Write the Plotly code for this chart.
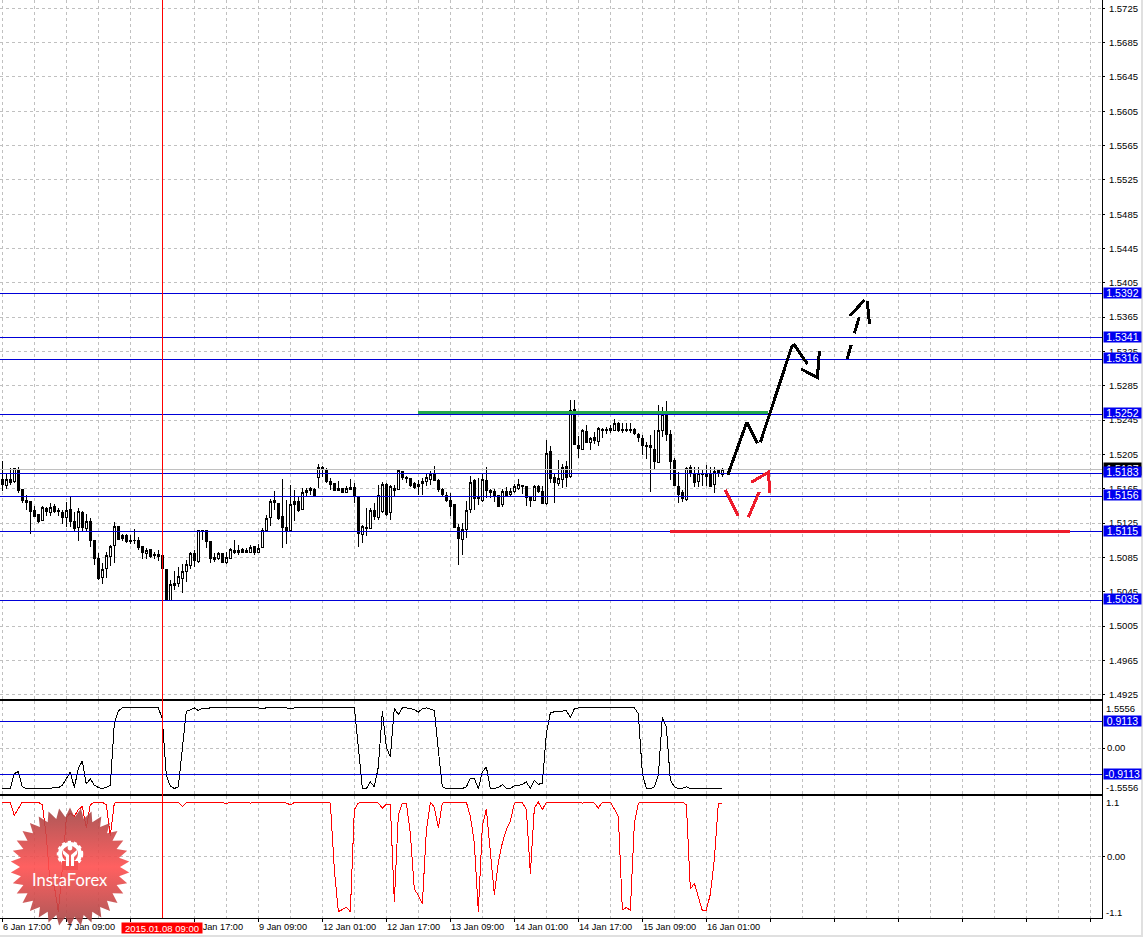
import base64
import math
import plotly.graph_objects as go
from plotly.subplots import make_subplots

# H1 bars, quotes in 5-digit points
opens_pts = [
    151760,151690,151760,151736,151876,151647,151519,151507,151399,151356,
    151286,151418,151371,151449,151402,151379,151321,151414,151263,151197,
    151379,151185,151263,151053,150835,150614,150719,150859,150987,151208,
    151103,151107,151053,151053,151053,150979,150894,150948,150886,150859,
    150878,150715,150350,150521,150544,150602,150684,150758,150890,150800,
    151162,151158,151033,150847,150839,150894,150789,150839,150932,150905,
    150944,150932,150913,150975,150905,150963,151162,151313,151515,151480,
    151332,151193,151169,151496,151507,151406,151635,151655,151643,151779,
    151900,151876,151729,151713,151655,151655,151612,151670,151670,151554,
    151119,151204,151189,151391,151313,151383,151694,151372,151655,151644,
    151853,151783,151764,151713,151671,151729,151733,151760,151826,151752,
    151647,151570,151519,151461,151193,151057,151170,151410,151741,151558,
    151519,151752,151632,151624,151566,151461,151620,151589,151616,151659,
    151690,151671,151554,151519,151671,151624,151473,152079,151783,151706,
    151760,151915,151791,152576,152160,152110,152319,152187,152249,152203,
    152343,152335,152347,152327,152405,152343,152343,152343,152335,152288,
    152238,152160,152156,152110,151954,152327,152510,152277,151985,151682,
    151609,151523,151900,151830,151733,151830,151822,151811,151694,151869,
    151822,
]
highs_pts = [
    151973,151830,151888,151888,151900,151647,151577,151507,151449,151356,
    151449,151441,151480,151468,151422,151402,151499,151554,151383,151422,
    151395,151356,151305,151053,150897,150781,150917,150995,151263,151216,
    151123,151123,151111,151181,151092,150983,150963,150948,150917,150936,
    150878,150715,150587,150695,150742,150773,150820,150917,150936,151169,
    151169,151169,151033,150897,150917,150905,150917,150963,151053,150995,
    150963,150956,150995,150987,151006,151189,151344,151530,151624,151488,
    151764,151519,151694,151635,151558,151663,151663,151666,151655,151938,
    151915,151888,151779,151721,151740,151663,151682,151760,151721,151554,
    151228,151422,151422,151480,151694,151733,151721,151694,151694,151869,
    151861,151799,151780,151733,151752,151772,151830,151861,151915,151760,
    151655,151616,151597,151461,151240,151247,151508,151799,151760,151772,
    151830,151900,151644,151644,151578,151644,151675,151655,151706,151764,
    151694,151682,151566,151694,151694,151682,152218,152148,151830,151985,
    151939,151978,152684,152684,152265,152343,152393,152257,152316,152374,
    152354,152374,152393,152459,152432,152413,152413,152413,152354,152304,
    152277,152199,152277,152335,152626,152599,152673,152335,152005,151849,
    151636,151900,151931,151900,151900,151877,151931,151908,151908,151869,
    151888,
]
lows_pts = [
    151628,151651,151694,151713,151604,151480,151402,151127,151317,151255,
    151278,151332,151332,151371,151332,151239,151208,151208,151162,151041,
    151162,151162,150975,150762,150587,150540,150606,150750,150789,151053,
    151045,151022,151006,151006,150936,150827,150831,150843,150827,150808,
    150719,150342,150350,150470,150509,150439,150567,150715,150742,150789,
    151053,150956,150789,150800,150820,150781,150769,150831,150890,150878,
    150897,150897,150897,150878,150897,150956,151158,151220,151402,151286,
    150963,151006,151162,151274,151383,151402,151550,151577,151550,151663,
    151791,151713,151635,151628,151628,151597,151597,151643,151480,150975,
    151014,151099,151185,151286,151286,151372,151333,151286,151566,151636,
    151752,151713,151675,151647,151574,151578,151682,151694,151745,151616,
    151550,151500,151333,151193,150762,150878,151073,151372,151403,151461,
    151500,151539,151539,151500,151442,151442,151558,151558,151597,151636,
    151589,151449,151442,151508,151605,151473,151461,151713,151488,151682,
    151655,151675,151772,152160,152005,152102,152187,152102,152168,152148,
    152238,152288,152296,152323,152316,152296,152316,152296,152277,152199,
    152044,151993,151616,151869,151947,152257,152211,151752,151682,151488,
    151492,151512,151791,151675,151667,151682,151682,151667,151605,151783,
    151791,
]
closes_pts = [
    151698,151760,151721,151888,151628,151519,151488,151383,151332,151274,
    151437,151387,151433,151383,151383,151313,151399,151263,151189,151387,
    151197,151274,151045,150835,150610,150711,150878,150979,151212,151064,
    151072,151037,151041,151045,150960,150905,150932,150855,150874,150886,
    150719,150350,150536,150548,150622,150688,150769,150897,150812,151162,
    151150,151033,150835,150827,150897,150796,150851,150948,150905,150929,
    150913,150905,150963,150905,150956,151158,151305,151503,151488,151305,
    151193,151162,151468,151472,151391,151608,151608,151635,151577,151900,
    151888,151733,151694,151635,151635,151608,151655,151647,151558,151130,
    151216,151185,151402,151325,151569,151694,151356,151671,151628,151865,
    151783,151768,151690,151663,151702,151713,151783,151811,151752,151647,
    151578,151519,151442,151193,151065,151170,151399,151725,151535,151535,
    151760,151628,151605,151558,151449,151620,151574,151616,151682,151694,
    151675,151550,151512,151678,151624,151473,152063,151764,151721,151772,
    151900,151780,152560,152164,152114,152327,152195,152238,152207,152354,
    152327,152327,152327,152413,152327,152327,152331,152327,152292,152249,
    152160,152145,152129,151966,152327,152521,152281,151966,151686,151589,
    151531,151884,151830,151721,151830,151815,151791,151682,151853,151830,
    151877,
]

osc_black = [
    -1.392,-1.392,-1.392,-0.877,-0.808,-1.335,-1.392,-1.392,-1.392,-1.392,
    -1.369,-1.392,-1.381,-1.381,-1.369,-1.278,-1.049,-0.819,-1.358,-0.705,
    -0.441,-1.243,-1.049,-1.278,-1.358,-1.392,-1.358,-1.278,0.842,1.278,
    1.392,1.392,1.392,1.392,1.392,1.392,1.392,1.392,1.381,1.392,
    1.014,-0.934,-1.312,-1.392,-1.335,0.040,1.278,1.324,1.392,1.301,
    1.381,1.358,1.392,1.392,1.392,1.392,1.392,1.392,1.392,1.392,
    1.392,1.392,1.392,1.392,1.392,1.358,1.392,1.392,1.392,1.392,
    1.392,1.392,1.358,1.392,1.392,1.392,1.392,1.392,1.392,1.392,
    1.392,1.392,1.392,1.392,1.392,1.392,1.392,1.392,1.392,0.040,
    -1.392,-1.392,-1.163,-1.335,-0.647,1.278,0.040,-0.304,1.392,1.152,
    1.392,1.392,1.358,1.335,1.243,1.358,1.392,1.358,1.301,-0.074,
    -1.335,-1.392,-1.392,-1.369,-1.392,-1.392,-1.335,-1.049,-1.049,-1.392,
    -0.819,-0.647,-1.392,-1.392,-1.358,-1.255,-1.392,-1.392,-1.301,-1.289,
    -1.255,-1.163,-1.392,-1.106,-1.243,-1.220,0.499,1.220,1.255,1.255,
    1.278,1.301,1.049,1.358,1.392,1.392,1.392,1.392,1.392,1.392,
    1.392,1.392,1.392,1.392,1.392,1.392,1.392,1.392,1.392,1.186,
    -0.877,-1.392,-1.404,-1.335,-0.934,1.072,0.728,-1.106,-1.335,-1.392,
    -1.381,-1.335,-1.392,-1.392,-1.392,-1.392,-1.392,-1.392,-1.369,-1.392,
    -1.392,
]
osc_red = [
    1.1,1.1,1.094,0.834,0.967,1.1,1.1,1.1,1.1,1.1,
    1.047,0.414,-0.587,-0.587,-1.107,-0.253,0.78,0.88,0.814,0.947,
    1.014,0.58,1.047,1.094,1.1,1.1,1.047,0.414,1.081,1.1,
    1.1,1.1,1.1,1.1,1.1,1.1,1.1,1.1,1.1,1.1,
    1.081,1.1,1.1,1.1,1.1,1.014,1.094,1.1,1.1,1.1,
    1.1,1.1,1.1,1.1,1.1,1.1,1.067,1.1,1.1,1.1,
    1.1,1.1,1.081,1.1,1.1,1.1,1.1,1.1,1.1,1.1,
    1.1,1.081,1.047,1.094,1.1,1.1,1.1,1.1,1.1,1.1,
    1.1,1.1,1.081,-0.253,-1.107,-1.067,-1.021,-1.107,0.947,1.081,
    1.1,1.1,1.1,1.1,1.081,0.98,1.061,1.047,-0.907,0.847,
    1.081,1.081,0.48,-0.654,-0.774,-0.954,0.514,1.1,1.0,0.58,
    1.081,1.1,1.1,1.1,1.1,1.1,1.1,0.814,0.28,-1.107,
    0.614,0.96,0.08,-0.76,-0.12,0.28,0.547,0.714,1.081,1.1,
    1.094,0.947,-0.34,0.98,1.1,0.947,1.1,1.1,1.1,1.1,
    1.1,1.1,1.1,1.1,1.1,1.081,1.087,1.1,1.081,0.98,
    1.1,1.1,1.1,0.96,0.814,-1.074,-1.021,-1.081,0.68,1.081,
    1.1,1.1,1.1,1.1,1.1,1.1,1.1,1.1,1.1,1.1,
    1.1,1.047,-0.654,-0.534,-0.82,-1.087,-1.074,-0.754,-0.053,1.081,
    1.081,
]

levels = [1.5392, 1.5341, 1.5316, 1.5252, 1.5183, 1.5156, 1.5115, 1.5035]
bid_price = 1.5187
osc_levels = [0.9113, -0.9113]
price_ticks = [1.5725, 1.5685, 1.5645, 1.5605, 1.5565, 1.5525, 1.5485, 1.5445, 1.5405, 1.5365, 1.5325,
               1.5285, 1.5245, 1.5205, 1.5165, 1.5125, 1.5085, 1.5045, 1.5005, 1.4965, 1.4925]
time_labels = ["6 Jan 17:00", "7 Jan 09:00", "8 Jan 01:00", "8 Jan 17:00", "9 Jan 09:00", "12 Jan 01:00",
               "12 Jan 17:00", "13 Jan 09:00", "14 Jan 01:00", "14 Jan 17:00", "15 Jan 09:00", "16 Jan 01:00"]
crosshair_bar = 40
crosshair_label = "2015.01.08 09:00"

# hand drawn forecast, (bar number, price)
black_paths = [
    ([181.35, 186.1, 188.76], [1.51811, 1.52425, 1.52180]),
    ([189.5, 197.35, 198.0, 201.26], [1.52192, 1.53306, 1.53326, 1.53104]),
    ([199.7, 203.76, 204.26], [1.53046, 1.52945, 1.53260]),
    ([211.2, 212.2], [1.53163, 1.53326]),
    ([213.0, 214.2], [1.53462, 1.53648]),
    ([211.9, 215.5], [1.53664, 1.53850]),
    ([216.2, 216.8], [1.53842, 1.53566]),
]
red_paths = [
    ([180.7, 184.0], [1.51636, 1.51333]),
    ([186.5, 189.2], [1.51318, 1.51613]),
    ([187.2, 191.5, 191.9], [1.51725, 1.51842, 1.51597]),
]
green_line = ([103.9, 191.4], [1.52540, 1.52540])
red_line = ([166.9, 267.0], [1.51154, 1.51154])

bars = list(range(len(opens_pts)))
BLUE = "#0000d8"
GRID = "#c0c0c0"
DASH = "3px,3px"
FONT = "Liberation Sans"
x_range = [-0.575, 274.9]
PLOT_W = 1102
PLOT_H = 918

fig = make_subplots(rows=3, cols=1, shared_xaxes=True)

fig.add_trace(go.Candlestick(
    x=bars,
    open=[v / 100000 for v in opens_pts],
    high=[v / 100000 for v in highs_pts],
    low=[v / 100000 for v in lows_pts],
    close=[v / 100000 for v in closes_pts],
    increasing=dict(line=dict(color="black", width=1), fillcolor="white"),
    decreasing=dict(line=dict(color="black", width=1), fillcolor="black"),
    whiskerwidth=0,
), row=1, col=1)

fig.add_trace(go.Scatter(x=x_range, y=[bid_price, bid_price], mode="lines",
                         line=dict(color=GRID, width=1)), row=1, col=1)
for level in levels:
    fig.add_trace(go.Scatter(x=x_range, y=[level, level], mode="lines",
                             line=dict(color=BLUE, width=1)), row=1, col=1)
fig.add_trace(go.Scatter(x=green_line[0], y=green_line[1], mode="lines",
                         line=dict(color="#22a84c", width=3)), row=1, col=1)
fig.add_trace(go.Scatter(x=red_line[0], y=red_line[1], mode="lines",
                         line=dict(color="#ee1c2c", width=3)), row=1, col=1)
for xs, ys in black_paths:
    fig.add_trace(go.Scatter(x=xs, y=ys, mode="lines", line=dict(color="black", width=3)), row=1, col=1)
for xs, ys in red_paths:
    fig.add_trace(go.Scatter(x=xs, y=ys, mode="lines", line=dict(color="#ee1c2c", width=3)), row=1, col=1)

fig.add_trace(go.Scatter(x=bars, y=osc_black, mode="lines", line=dict(color="black", width=1)), row=2, col=1)
for level in osc_levels:
    fig.add_trace(go.Scatter(x=x_range, y=[level, level], mode="lines",
                             line=dict(color=BLUE, width=1)), row=2, col=1)
fig.add_trace(go.Scatter(x=bars, y=osc_red, mode="lines", line=dict(color="red", width=1)), row=3, col=1)

fig.update_xaxes(
    range=x_range, rangeslider_visible=False, showticklabels=False,
    tickmode="array", tickvals=list(range(0, 275, 16)),
    showgrid=True, gridcolor=GRID, griddash=DASH, gridwidth=1,
    minor=dict(tickmode="array", tickvals=list(range(8, 275, 16)), showgrid=True,
               gridcolor=GRID, griddash=DASH, gridwidth=1, ticks=""),
    showline=True, linecolor="black", linewidth=1, zeroline=False,
)
fig.update_xaxes(ticks="", row=1, col=1)
fig.update_xaxes(ticks="", mirror=True, row=2, col=1)
fig.update_xaxes(ticks="outside", ticklen=3, tickcolor="black", mirror=True, row=3, col=1)

fig.update_yaxes(
    side="right", showline=True, linecolor="black", linewidth=1, zeroline=False,
    showgrid=True, gridcolor=GRID, griddash=DASH, gridwidth=1,
    ticks="outside", ticklen=2, tickcolor="black", tickfont=dict(family=FONT, size=9.5, color="black"),
)
fig.update_yaxes(domain=[0.23856, 1], range=[1.49200, 1.57346], tickmode="array", tickvals=price_ticks,
                 ticktext=["%.4f" % t for t in price_ticks], ticklabelstandoff=2, row=1, col=1)
fig.update_yaxes(domain=[0.13562, 0.23584], range=[-1.564, 1.61], tickmode="array", tickvals=[0],
                 ticktext=["0.00"], row=2, col=1)
fig.update_yaxes(domain=[0, 0.13344], range=[-1.234, 1.234], tickmode="array", tickvals=[0],
                 ticktext=["0.00"], row=3, col=1)

notes = []
for k, label in enumerate(time_labels):
    notes.append(dict(x=16 * k, xref="x3", y=(PLOT_H - 927) / PLOT_H, yref="paper", text=label,
                      xanchor="left", yanchor="middle", showarrow=False, borderpad=0,
                      font=dict(family=FONT, size=9.2, color="black")))
notes.append(dict(x=crosshair_bar, xref="x3", y=(PLOT_H - 927.5) / PLOT_H, yref="paper", text=crosshair_label,
                  xanchor="center", yanchor="middle", showarrow=False, borderpad=0, width=80, height=10,
                  bgcolor="red", font=dict(family=FONT, size=9.5, color="white")))


def price_box(value, yref, color, height=10):
    text = "%.4f" % value
    return dict(x=1103 / PLOT_W, xref="paper", y=value, yref=yref, yshift=1, text=text, xanchor="left",
                yanchor="middle", showarrow=False, borderpad=0, width=37, height=height, bgcolor=color,
                font=dict(family=FONT, size=10.5, color="white"))


notes.append(price_box(bid_price, "y", "black", height=12))
for level in levels:
    notes.append(price_box(level, "y", "#0000f0"))
for level in osc_levels:
    notes.append(price_box(level, "y2", "#0000f0"))
for text, py in [("1.5556", 708), ("-1.5556", 787), ("1.1", 802), ("-1.1", 912)]:
    notes.append(dict(x=1105 / PLOT_W, xref="paper", y=(PLOT_H - py) / PLOT_H, yref="paper", text=text,
                      xanchor="left", yanchor="middle", showarrow=False, borderpad=0,
                      font=dict(family=FONT, size=9.5, color="black")))

notes.append(dict(x=70 / PLOT_W, xref="paper", y=(PLOT_H - 880) / PLOT_H, yref="paper", text="InstaForex",
                  xanchor="center", yanchor="middle", showarrow=False, borderpad=0,
                  font=dict(family="Lato", size=16.5, color="white")))

# InstaForex badge
pts = []
for k in range(68):
    r = 59.5 if k % 2 == 0 else 50
    a = math.pi * k / 34
    pts.append("%.1f,%.1f" % (60 + r * math.sin(a), 60 - r * math.cos(a)))
badge = f"""<svg xmlns="http://www.w3.org/2000/svg" width="120" height="120" viewBox="0 0 120 120">
<defs><linearGradient id="g" x1="0" y1="0" x2="0" y2="1">
<stop offset="0.05" stop-color="#ab4646"/><stop offset="0.5" stop-color="#ff4f4f"/><stop offset="0.95" stop-color="#ab4646"/>
</linearGradient></defs>
<polygon points="{' '.join(pts)}" fill="url(#g)" fill-opacity="0.9"/>
<circle cx="60" cy="47" r="10" fill="none" stroke="white" stroke-width="4"/>
<circle cx="60" cy="47" r="12" fill="none" stroke="white" stroke-width="2.5" stroke-dasharray="3.2 2.8"/>
<rect x="52" y="54" width="16" height="9" fill="#f45050"/>
<circle cx="60" cy="41" r="2.4" fill="white"/>
<path d="M53 43 L59 48 V59 H56 V50 L53 47 Z M67 43 L61 48 V59 H64 V50 L67 47 Z" fill="white"/>
</svg>"""
badge_src = "data:image/svg+xml;base64," + base64.b64encode(badge.encode()).decode()

fig.update_layout(
    width=1143, height=937,
    margin=dict(l=0, r=41, t=0, b=19, pad=0),
    paper_bgcolor="white", plot_bgcolor="white",
    showlegend=False,
    annotations=notes,
    shapes=[
        dict(type="line", xref="x", x0=crosshair_bar, x1=crosshair_bar, yref="paper", y0=0, y1=1,
             line=dict(color="red", width=1), layer="above"),
        dict(type="line", xref="paper", x0=1141.5 / PLOT_W, x1=1141.5 / PLOT_W, yref="paper", y0=(PLOT_H - 937) / PLOT_H,
             y1=1, line=dict(color="#e0e0e0", width=2)),
        dict(type="line", xref="paper", x0=0, x1=1143 / PLOT_W, yref="paper", y0=(PLOT_H - 936) / PLOT_H,
             y1=(PLOT_H - 936) / PLOT_H, line=dict(color="#e0e0e0", width=2)),
    ],
    images=[dict(source=badge_src, xref="paper", yref="paper", x=10 / PLOT_W, y=(PLOT_H - 807) / PLOT_H,
                 sizex=120 / PLOT_W, sizey=120 / PLOT_H, xanchor="left", yanchor="top", sizing="stretch", layer="above")],
    boxgap=0.5,
)

# terminal style lines, no antialiasing
crisp = ("document.body.style.margin='0';document.body.style.overflow='hidden';"
         "var s=document.createElement('style');"
         "s.textContent='.scatterlayer path.js-line,.boxlayer path,.shapelayer path{shape-rendering:crispEdges !important}';"
         "document.head.appendChild(s);")
fig.write_html("out.html", config={"displayModeBar": False}, post_script=crisp)
